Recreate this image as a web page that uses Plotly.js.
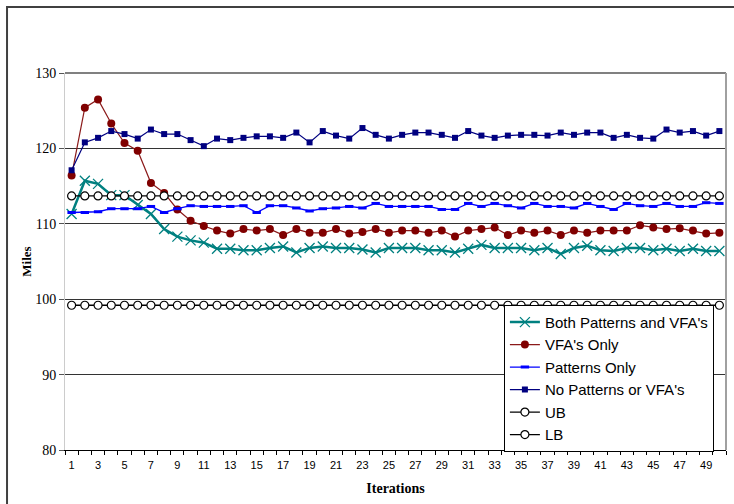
<!DOCTYPE html>
<html>
<head>
<meta charset="utf-8">
<script src="https://cdn.plot.ly/plotly-3.0.1.min.js"></script>
<style>
html,body{margin:0;padding:0;background:#fff;overflow:hidden;}
#chart{width:734px;height:504px;}
</style>
</head>
<body>
<div id="chart"></div>
<script>
var iterations = [1,2,3,4,5,6,7,8,9,10,11,12,13,14,15,16,17,18,19,20,21,22,23,24,25,26,27,28,29,30,31,32,33,34,35,36,37,38,39,40,41,42,43,44,45,46,47,48,49,50];
var tickLabels = [1,3,5,7,9,11,13,15,17,19,21,23,25,27,29,31,33,35,37,39,41,43,45,47,49];
var tickBounds = [0.5,1.5,2.5,3.5,4.5,5.5,6.5,7.5,8.5,9.5,10.5,11.5,12.5,13.5,14.5,15.5,16.5,17.5,18.5,19.5,20.5,21.5,22.5,23.5,24.5,25.5,26.5,27.5,28.5,29.5,30.5,31.5,32.5,33.5,34.5,35.5,36.5,37.5,38.5,39.5,40.5,41.5,42.5,43.5,44.5,45.5,46.5,47.5,48.5,49.5,50.5];
var seriesNames = ["Both Patterns and VFA's","VFA's Only","Patterns Only","No Patterns or VFA's","UB","LB"];

var bothPatternsVFA = [111.3,115.7,115.3,113.8,113.8,112.5,111.3,109.3,108.3,107.8,
  107.5,106.7,106.7,106.5,106.5,106.8,107.0,106.2,106.8,107.0,
  106.8,106.8,106.6,106.2,106.8,106.8,106.8,106.5,106.5,106.2,
  106.7,107.2,106.8,106.8,106.8,106.5,106.8,106.0,106.8,107.1,
  106.5,106.4,106.8,106.8,106.5,106.7,106.4,106.7,106.4,106.4];
var vfaOnly = [116.4,125.4,126.5,123.3,120.7,119.7,115.4,114.1,111.9,110.4,
  109.7,109.1,108.7,109.3,109.1,109.3,108.5,109.3,108.8,108.8,
  109.3,108.7,108.9,109.3,108.8,109.1,109.1,108.8,109.1,108.3,
  109.1,109.3,109.5,108.5,109.1,108.8,109.1,108.5,109.1,108.8,
  109.1,109.1,109.1,109.8,109.5,109.3,109.4,109.1,108.7,108.8];
var patternsOnly = [111.5,111.5,111.6,112.0,112.0,112.0,112.3,111.5,112.0,112.4,
  112.3,112.3,112.3,112.4,111.5,112.4,112.4,112.1,111.7,112.0,
  112.1,112.3,112.1,112.7,112.3,112.3,112.3,112.3,111.9,111.9,
  112.7,112.3,112.7,112.4,112.1,112.7,112.3,112.3,112.1,112.7,
  112.3,111.9,112.7,112.4,112.3,112.7,112.3,112.3,112.8,112.7];
var noPatternsVFA = [117.1,120.8,121.4,122.3,121.9,121.3,122.5,121.9,121.9,121.1,
  120.3,121.3,121.1,121.4,121.6,121.6,121.4,122.1,120.8,122.3,
  121.7,121.3,122.7,121.8,121.3,121.8,122.1,122.1,121.8,121.4,
  122.3,121.7,121.4,121.7,121.8,121.8,121.7,122.1,121.8,122.1,
  122.1,121.4,121.8,121.4,121.3,122.5,122.1,122.3,121.7,122.3];
var ub = [113.7,113.7,113.7,113.7,113.7,113.7,113.7,113.7,113.7,113.7,
  113.7,113.7,113.7,113.7,113.7,113.7,113.7,113.7,113.7,113.7,
  113.7,113.7,113.7,113.7,113.7,113.7,113.7,113.7,113.7,113.7,
  113.7,113.7,113.7,113.7,113.7,113.7,113.7,113.7,113.7,113.7,
  113.7,113.7,113.7,113.7,113.7,113.7,113.7,113.7,113.7,113.7];
var lb = [99.2,99.2,99.2,99.2,99.2,99.2,99.2,99.2,99.2,99.2,
  99.2,99.2,99.2,99.2,99.2,99.2,99.2,99.2,99.2,99.2,
  99.2,99.2,99.2,99.2,99.2,99.2,99.2,99.2,99.2,99.2,
  99.2,99.2,99.2,99.2,99.2,99.2,99.2,99.2,99.2,99.2,
  99.2,99.2,99.2,99.2,99.2,99.2,99.2,99.2,99.2,99.2];

function tr(y, i, line, marker) {
  return {x: iterations, y: y, name: seriesNames[i], type: 'scatter', mode: 'lines+markers',
    line: line, marker: marker, legendgroup: 'g' + i, cliponaxis: false};
}

var data = [
  tr(bothPatternsVFA, 0, {color: '#008080', width: 2.5}, {symbol: 'x-thin', size: 10, line: {color: '#008080', width: 1.3}, color: '#008080'}),
  tr(vfaOnly, 1, {color: '#8B1A1A', width: 1.2}, {symbol: 'circle', size: 8, color: '#800000'}),
  tr(patternsOnly, 2, {color: '#0000FF', width: 1.3}, {symbol: 'line-ew', size: 6, line: {color: '#0000FF', width: 3}, color: '#0000FF'}),
  tr(noPatternsVFA, 3, {color: '#000080', width: 1.2}, {symbol: 'square', size: 6, color: '#000080'}),
  tr(ub, 4, {color: '#000000', width: 1.3}, {symbol: 'circle', size: 8, color: '#FFFFFF', line: {color: '#000000', width: 1.2}}),
  tr(lb, 5, {color: '#000000', width: 1.3}, {symbol: 'circle', size: 8, color: '#FFFFFF', line: {color: '#000000', width: 1.2}})
];

var layout = {
  width: 734, height: 504,
  margin: {l: 65, r: 8, t: 73, b: 54, pad: 0},
  paper_bgcolor: '#FFFFFF', plot_bgcolor: '#FFFFFF',
  showlegend: true,
  legend: {x: 0.664, y: 0.385, xanchor: 'left', yanchor: 'top',
    bgcolor: '#FFFFFF', bordercolor: '#000000', borderwidth: 1,
    font: {family: 'Liberation Sans, Arial, sans-serif', size: 15, color: '#000'},
    traceorder: 'grouped', tracegroupgap: 0, itemwidth: 30},
  xaxis: {type: 'linear', range: [0.5, 50.5], tickmode: 'array', tickvals: tickLabels,
    ticktext: tickLabels.map(String), ticks: 'outside', ticklen: 5, tickcolor: 'rgba(0,0,0,0)',
    minor: {tickmode: 'array', tickvals: tickBounds, ticks: 'outside', ticklen: 4, tickcolor: '#000', showgrid: false},
    showgrid: false, zeroline: false, showline: true, linecolor: '#000', linewidth: 1,
    tickfont: {family: 'Liberation Sans, Arial, sans-serif', size: 11, color: '#000'},
    title: {text: '<b>Iterations</b>', font: {family: 'Liberation Serif, Times New Roman, serif', size: 14, color: '#000'}, standoff: 12}},
  yaxis: {range: [80, 130], dtick: 10, tick0: 80, ticks: 'outside', ticklen: 5, tickcolor: '#555',
    showgrid: true, gridcolor: '#333', gridwidth: 1, zeroline: false,
    showline: true, linecolor: '#ccc', linewidth: 1,
    tickfont: {family: 'Liberation Serif, Times New Roman, serif', size: 14, color: '#000'},
    title: {text: '<b>Miles</b>', font: {family: 'Liberation Serif, Times New Roman, serif', size: 13, color: '#000'}, standoff: 0}},
  shapes: [
    {type: 'line', xref: 'paper', yref: 'paper', x0: 0, x1: 1, y0: 1, y1: 1, line: {color: '#808080', width: 2}},
    {type: 'line', xref: 'paper', yref: 'paper', x0: 1, x1: 1, y0: 0, y1: 1, line: {color: '#a0a0a0', width: 2}},
    {type: 'rect', xref: 'paper', yref: 'paper', x0: -0.0877, x1: 1.03, y0: -0.17, y1: 1.175, line: {color: '#404040', width: 2}, fillcolor: 'rgba(0,0,0,0)', layer: 'below'}
  ]
};

Plotly.newPlot('chart', data, layout, {staticPlot: true, displayModeBar: false});
</script>
</body>
</html>
